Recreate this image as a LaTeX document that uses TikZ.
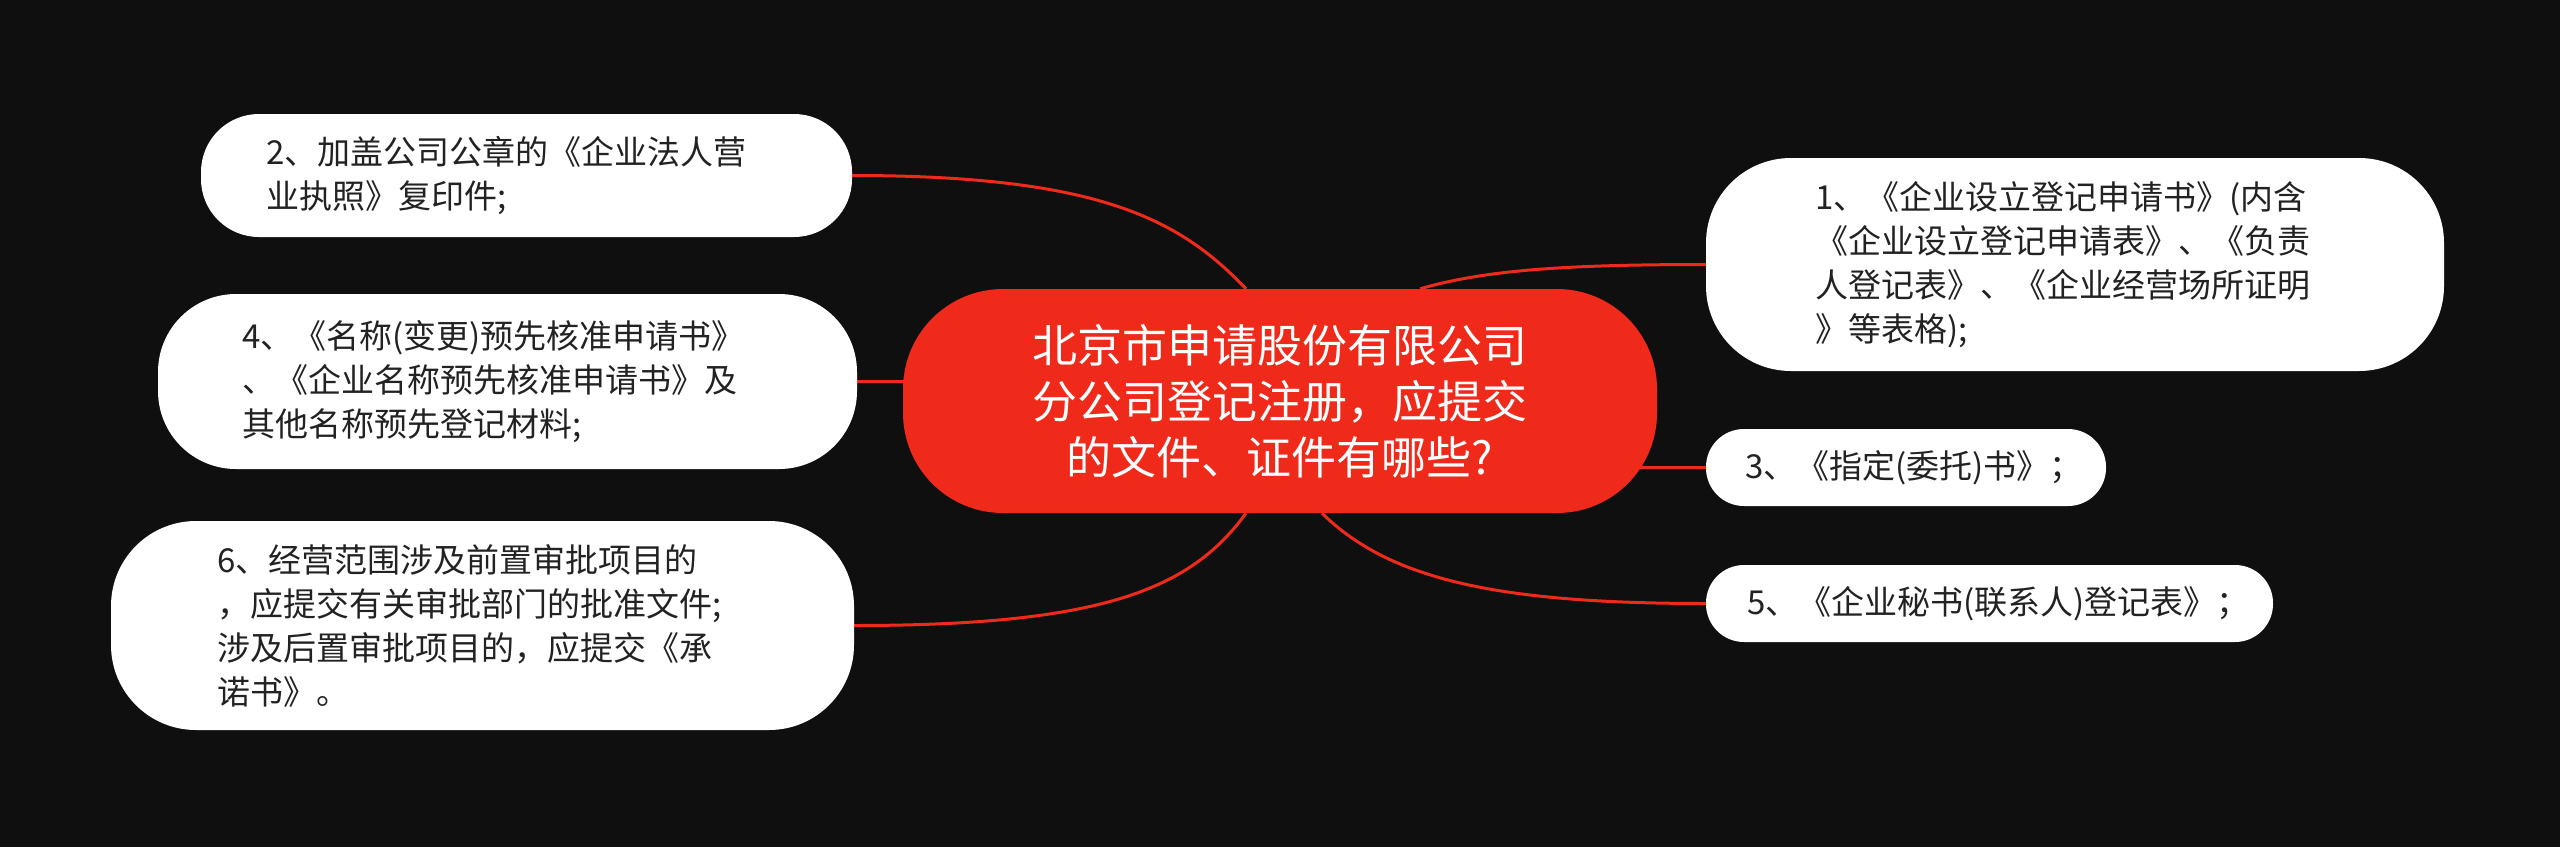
\documentclass[tikz,border=0pt]{standalone}
\usepackage{fontspec}
\newfontfamily\cjk{Noto Sans CJK SC}
\usepackage{tikz}
\usetikzlibrary{calc}
\definecolor{bgdark}{HTML}{0F0F0F}
\definecolor{rootred}{HTML}{EF2A1B}
\definecolor{txtdark}{HTML}{222222}
\pgfdeclarelayer{back}
\pgfdeclarelayer{wires}
\pgfsetlayers{back,wires,main}

\begin{document}
\begin{tikzpicture}[x=1pt,y=-1pt,
  leaf/.style={fill=white,text=txtdark,inner sep=0pt,align=left,
    font=\cjk\fontsize{33}{44}\selectfont},
  wire/.style={draw=rootred,line width=3pt}]
\begin{pgfonlayer}{back}
\fill[bgdark] (0,0) rectangle (2560,847);
\end{pgfonlayer}
\useasboundingbox (0,0) rectangle (2560,847);

% centre
\node[fill=rootred,text=white,rounded corners=100pt,minimum width=754pt,
  minimum height=224pt,text width=540pt,align=center,inner sep=0pt,
  font=\cjk\fontsize{45}{56}\selectfont] (root) at (1280,401)
  {北京市申请股份有限公司\\分公司登记注册，应提交\\的文件、证件有哪些?};

% left side
\node[leaf,rounded corners=58pt,minimum width=651pt,minimum height=123pt,
  text width=521pt] (n2) at (526.5,175.5)
  {2、加盖公司公章的《企业法人营\\业执照》复印件;};
\node[leaf,rounded corners=78pt,minimum width=699pt,minimum height=175pt,
  text width=531pt] (n4) at (507.5,381.5)
  {4、《名称(变更)预先核准申请书》\\、《企业名称预先核准申请书》及\\其他名称预先登记材料;};
\node[leaf,rounded corners=85pt,minimum width=743pt,minimum height=209pt,
  text width=531pt] (n6) at (482.5,625.5)
  {6、经营范围涉及前置审批项目的\\，应提交有关审批部门的批准文件;\\涉及后置审批项目的，应提交《承\\诺书》。};

% right side
\node[leaf,rounded corners=85pt,minimum width=738pt,minimum height=213pt,
  text width=520pt] (n1) at (2075,264.5)
  {1、《企业设立登记申请书》(内含\\《企业设立登记申请表》、《负责\\人登记表》、《企业经营场所证明\\》等表格);};
\node[leaf,rounded corners=38pt,minimum width=400pt,minimum height=77pt,
  text width=322pt] (n3) at (1906,467.5)
  {3、《指定(委托)书》；};
\node[leaf,rounded corners=38pt,minimum width=567pt,minimum height=77pt,
  text width=485pt] (n5) at (1989.5,603.5)
  {5、《企业秘书(联系人)登记表》；};

\begin{pgfonlayer}{wires}
\draw[wire] (n2.east) .. controls +(248,0) and +(-66,-69) .. ([xshift=-34pt]root.north);
\draw[wire] (n4.east) -- (n4.east -| root.center);
\draw[wire] (n6.east) .. controls +(246,0) and +(-56,77) .. ([xshift=-34pt]root.south);
\draw[wire] (n1.west) .. controls +(-156,0) and +(60,-17) .. ([xshift=140pt]root.north);
\draw[wire] (n3.west) -- (n3.west -| root.center);
\draw[wire] (n5.west) .. controls +(-206,0) and +(68,67) .. ([xshift=42pt]root.south);
\end{pgfonlayer}
\end{tikzpicture}
\end{document}
